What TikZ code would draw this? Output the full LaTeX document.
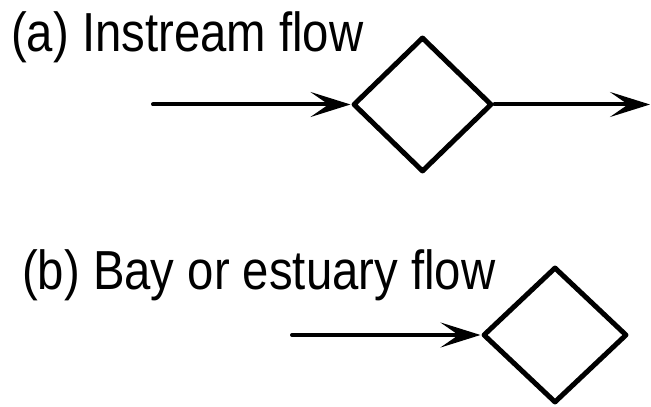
\documentclass[tikz,border=0pt]{standalone}
\usepackage{fontspec}
\usetikzlibrary{shapes.geometric,arrows.meta}
\newfontfamily\labelfont[FakeStretch=0.86]{Liberation Sans}
\begin{document}
\begin{tikzpicture}[x=1pt,y=1pt,line cap=round,line join=round,
	box/.style={diamond,draw,line width=5pt,inner sep=0pt},
	flow/.style={line width=4pt,-{Stealth[length=40pt,width=25pt,inset=18pt]}},
	lbl/.style={anchor=base west,inner sep=0pt,font=\labelfont\fontsize{55}{60}\selectfont}]
	\useasboundingbox (0,0) rectangle (651,407);
	% (a) instream
	\node[lbl] (la) at (11,355) {(a) Instream flow};
	\node[box,minimum width=139pt,minimum height=135pt] (da) at (422.5,302.5) {};
	\coordinate (ina) at (153,302.5);
	\coordinate (outa) at (650,302.5);
	\draw[flow] (ina)--(da.west);
	\draw[flow] (da.east)--(outa);
	% (b) bay or estuary
	\node[lbl] (lb) at (22,117) {(b) Bay or estuary flow};
	\node[box,minimum width=144pt,minimum height=136pt] (db) at (555,72) {};
	\coordinate (inb) at (292,72);
	\draw[flow] (inb)--(db.west);
\end{tikzpicture}
\end{document}
